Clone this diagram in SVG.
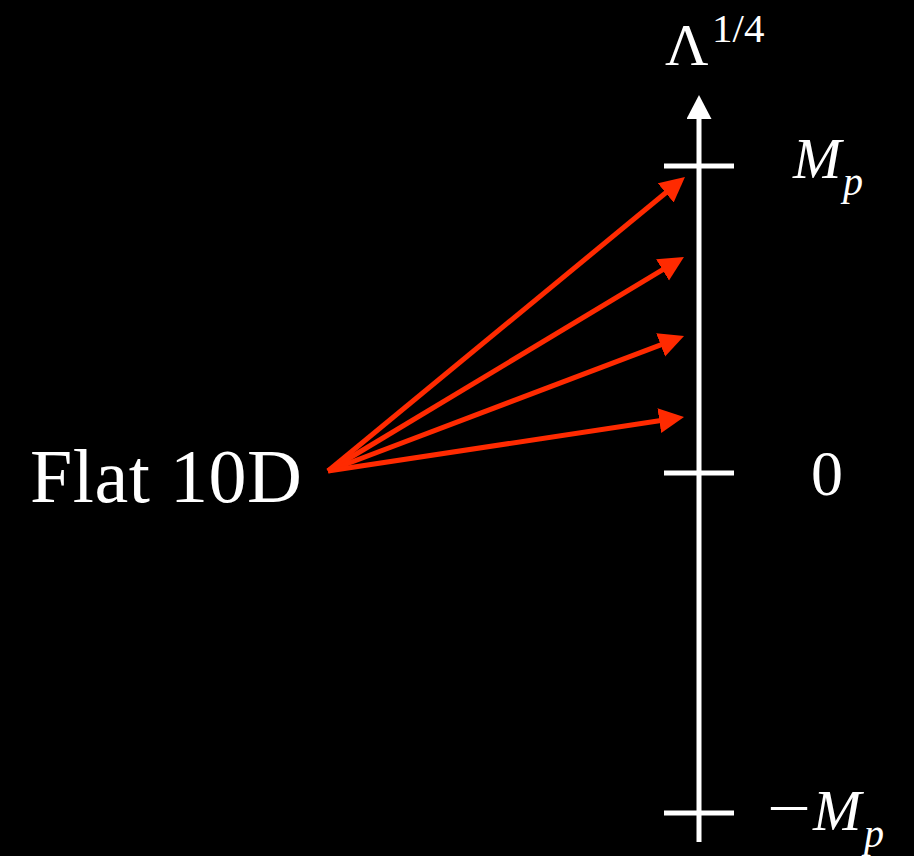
<svg xmlns="http://www.w3.org/2000/svg" width="914" height="856" viewBox="0 0 914 856">
<style>
.t{fill:#fff;font-family:"Liberation Serif","Times New Roman",serif}
.i{font-style:italic}
.ax{stroke:#fff;stroke-width:5;fill:none}
.ar{stroke:#ff2a00;stroke-width:5;fill:none;marker-end:url(#rh)}
</style>
<defs>
<marker id="rh" markerUnits="userSpaceOnUse" markerWidth="26" markerHeight="26" refX="10" refY="12.5" orient="auto">
<path d="M0,0 L25,12.5 L0,25 z" fill="#ff2a00"/>
</marker>
<marker id="wh" markerUnits="userSpaceOnUse" markerWidth="26" markerHeight="26" refX="10" refY="12.5" orient="auto">
<path d="M0,0 L24,12.5 L0,25 z" fill="#fff"/>
</marker>
</defs>
<rect width="914" height="856" fill="#000"/>
<g id="axis">
<line class="ax" x1="699" y1="842" x2="699" y2="109" marker-end="url(#wh)"/>
<line class="ax" x1="664" y1="166" x2="734" y2="166"/>
<line class="ax" x1="664" y1="473" x2="734" y2="473"/>
<line class="ax" x1="664" y1="813" x2="734" y2="813"/>
</g>
<g id="axis-label"><text class="t" x="665" y="65" font-size="60">Λ</text><text class="t" x="712" y="42" font-size="41">1/4</text></g>
<g id="label-mp"><text class="t i" x="793" y="178" font-size="58">M</text><text class="t i" x="843" y="195" font-size="40">p</text></g>
<g id="label-zero"><text class="t" x="811" y="495" font-size="64">0</text></g>
<g id="label-minus-mp"><text class="t" x="767" y="829" font-size="62" textLength="44" lengthAdjust="spacingAndGlyphs">−</text><text class="t i" x="813" y="830" font-size="58">M</text><text class="t i" x="864" y="847" font-size="40">p</text></g>
<g id="flat10d"><text class="t" x="30" y="502" font-size="76" textLength="272">Flat 10D</text></g>
<g id="connectors">
<line class="ar" x1="328" y1="471" x2="673.4" y2="186.5"/>
<line class="ar" x1="328" y1="471" x2="671.1" y2="264.7"/>
<line class="ar" x1="328" y1="471" x2="670.0" y2="341.3"/>
<line class="ar" x1="328" y1="471" x2="669.2" y2="419.2"/>
</g>
</svg>
